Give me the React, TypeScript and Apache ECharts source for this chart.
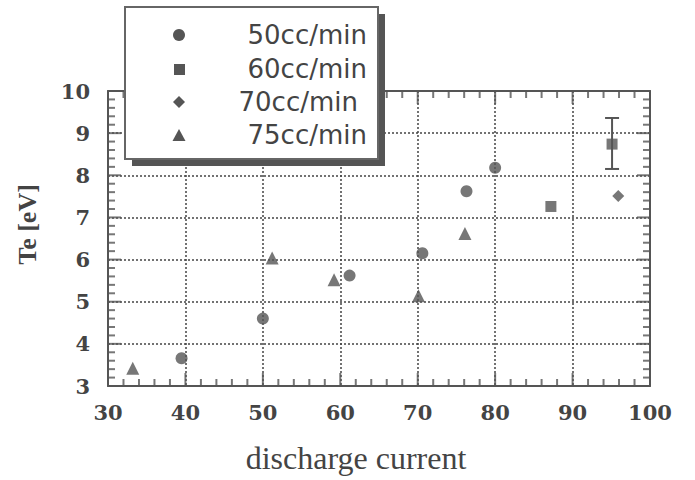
import React, { useEffect, useRef } from "react";
import * as echarts from "echarts";

const seriesNames = ["50cc/min", "60cc/min", "70cc/min", "75cc/min"];
const data50: number[][] = [[39.5, 3.66], [50, 4.6], [61.2, 5.62], [70.6, 6.15], [76.3, 7.62], [80, 8.18]];
const data60: number[][] = [[87.2, 7.26], [95.1, 8.74]];
const data70: number[][] = [[95.9, 7.51]];
const data75: number[][] = [[33.2, 3.42], [51.2, 6.04], [59.2, 5.52], [70.1, 5.14], [76.1, 6.62]];
const errorBars: number[][] = [[95.1, 8.15, 9.36]];
const xTicks = [30, 40, 50, 60, 70, 80, 90, 100];
const yTicks = [3, 4, 5, 6, 7, 8, 9, 10];
const minorSplits = 5;

const INK = "#555";

function minorOf(ticks: number[]) {
  const out: number[] = [];
  for (let i = 0; i < ticks.length - 1; i++) {
    const step = (ticks[i + 1] - ticks[i]) / minorSplits;
    for (let k = 1; k < minorSplits; k++) out.push(ticks[i] + step * k);
  }
  return out;
}

const baseX: any = {
  type: "value",
  min: xTicks[0],
  max: xTicks[xTicks.length - 1],
  interval: 10,
  axisLine: { show: true, lineStyle: { color: INK, width: 2 } },
  axisTick: { show: false },
  minorTick: { show: false },
};
const baseY: any = {
  type: "value",
  min: yTicks[0],
  max: yTicks[yTicks.length - 1],
  interval: 1,
  axisLine: { show: true, lineStyle: { color: INK, width: 2 } },
  axisTick: { show: false },
  minorTick: { show: false },
};

export default function App() {
  const ref = useRef<HTMLDivElement>(null);
  useEffect(() => {
    if (!ref.current) return;
    const chart = echarts.init(ref.current, null, { renderer: "svg" });
    const labelFont = { fontFamily: "DejaVu Serif", fontWeight: "bold", fontSize: 21, color: "#444" };
    const dotted = { show: true, lineStyle: { color: "#444", width: 1.5, type: [2, 2] } };
    const marker = { color: INK };
    const xMin = xTicks[0], xMax = xTicks[xTicks.length - 1];
    const yMin = yTicks[0], yMax = yTicks[yTicks.length - 1];
    const xMinor = minorOf(xTicks);
    const yMinor = minorOf(yTicks);
    const tickSeries = (data: number[][], size: number[], offset: number[]) => ({
      type: "scatter",
      silent: true,
      clip: false,
      symbol: "rect",
      symbolSize: size,
      symbolOffset: offset,
      itemStyle: { color: INK },
      data,
      z: 2,
    });
    const MJ = 13, MN = 7, TW = 2;
    chart.setOption({
      animation: false,
      backgroundColor: "#fff",
      grid: { left: 108, right: 45, top: 91, bottom: 94 },
      xAxis: [
        {
          ...baseX,
          position: "bottom",
          name: "discharge current",
          nameLocation: "middle",
          nameGap: 56,
          nameTextStyle: { fontFamily: "Liberation Serif", fontSize: 32, color: "#444", padding: [0, 46, 0, 0] },
          axisLabel: { ...labelFont, margin: 16 },
          splitLine: dotted,
        },
        { ...baseX, position: "top", axisLabel: { show: false }, splitLine: { show: false } },
      ],
      yAxis: [
        {
          ...baseY,
          position: "left",
          name: "Te [eV]",
          nameLocation: "middle",
          nameGap: 68,
          nameTextStyle: {
            fontFamily: "Liberation Serif",
            fontWeight: "bold",
            fontSize: 26,
            color: "#444",
            padding: [0, 0, 0, 28],
          },
          axisLabel: { ...labelFont, margin: 18 },
          splitLine: dotted,
        },
        { ...baseY, position: "right", axisLabel: { show: false }, splitLine: { show: false } },
      ],
      series: [
        tickSeries(xTicks.map((v) => [v, yMin]), [TW, MJ], [0, -MJ / 2]),
        tickSeries(xTicks.map((v) => [v, yMax]), [TW, MJ], [0, MJ / 2]),
        tickSeries(xMinor.map((v) => [v, yMin]), [TW, MN], [0, -MN / 2]),
        tickSeries(xMinor.map((v) => [v, yMax]), [TW, MN], [0, MN / 2]),
        tickSeries(yTicks.map((v) => [xMin, v]), [MJ, TW], [MJ / 2, 0]),
        tickSeries(yTicks.map((v) => [xMax, v]), [MJ, TW], [-MJ / 2, 0]),
        tickSeries(yMinor.map((v) => [xMin, v]), [MN, TW], [MN / 2, 0]),
        tickSeries(yMinor.map((v) => [xMax, v]), [MN, TW], [-MN / 2, 0]),
        { name: seriesNames[0], type: "scatter", symbol: "circle", symbolSize: 12, itemStyle: marker, data: data50, z: 3 },
        { name: seriesNames[1], type: "scatter", symbol: "rect", symbolSize: 11, itemStyle: marker, data: data60, z: 3 },
        { name: seriesNames[2], type: "scatter", symbol: "diamond", symbolSize: 12, itemStyle: marker, data: data70, z: 3 },
        { name: seriesNames[3], type: "scatter", symbol: "triangle", symbolSize: 13, itemStyle: marker, data: data75, z: 3 },
        {
          type: "custom",
          data: errorBars,
          z: 3,
          renderItem: (params: any, api: any) => {
            const x = api.value(0);
            const lo = api.coord([x, api.value(1)]);
            const hi = api.coord([x, api.value(2)]);
            const w = 7;
            const st = { stroke: INK, lineWidth: 2 };
            return {
              type: "group",
              children: [
                { type: "line", shape: { x1: lo[0], y1: lo[1], x2: hi[0], y2: hi[1] }, style: st },
                { type: "line", shape: { x1: lo[0] - w, y1: lo[1], x2: lo[0] + w, y2: lo[1] }, style: st },
                { type: "line", shape: { x1: hi[0] - w, y1: hi[1], x2: hi[0] + w, y2: hi[1] }, style: st },
              ],
            };
          },
        },
      ],
      graphic: [
        { type: "rect", z: 100, shape: { x: 132, y: 14, width: 253, height: 152 }, style: { fill: "#555" } },
        { type: "rect", z: 101, shape: { x: 125, y: 7, width: 253, height: 152 }, style: { fill: "#fff", stroke: "#666", lineWidth: 2 } },
        { type: "circle", z: 102, shape: { cx: 179, cy: 35, r: 6 }, style: { fill: INK } },
        { type: "rect", z: 102, shape: { x: 174, y: 64, width: 11, height: 11 }, style: { fill: INK } },
        { type: "polygon", z: 102, shape: { points: [[179, 96], [185, 102], [179, 108], [173, 102]] }, style: { fill: INK } },
        { type: "polygon", z: 102, shape: { points: [[179, 129], [185.5, 141], [172.5, 141]] }, style: { fill: INK } },
        ...[35, 69, 102, 135].map((y, i) => ({
          type: "text",
          z: 102,
          style: {
            text: seriesNames[i],
            x: i === 2 ? 358 : 367,
            y,
            align: "right",
            verticalAlign: "middle",
            fontFamily: "DejaVu Sans",
            fontSize: 26,
            fill: "#444",
          },
        })),
      ],
    });
    return () => chart.dispose();
  }, []);
  return <div ref={ref} style={{ width: 695, height: 480, position: "absolute", left: 0, top: 0 }} />;
}
